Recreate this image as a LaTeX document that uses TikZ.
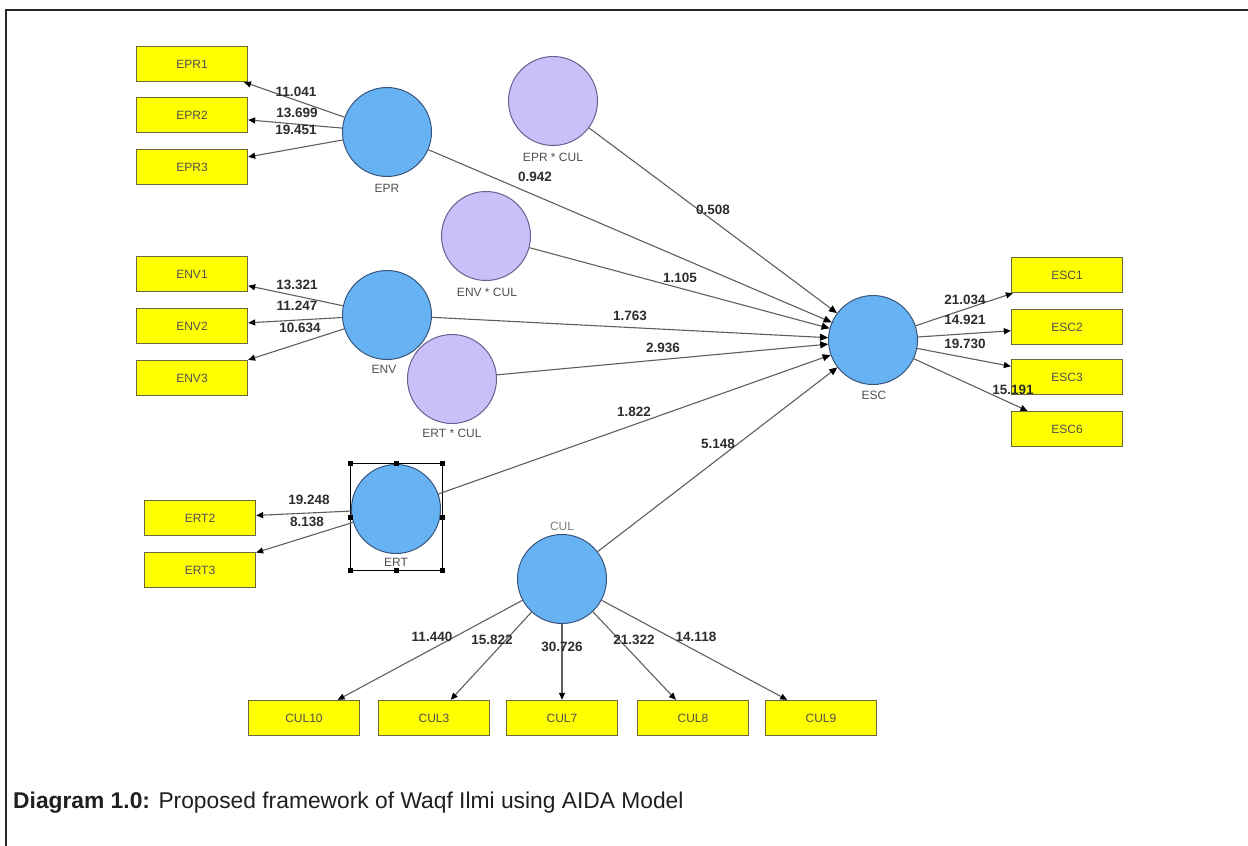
\documentclass[tikz,border=0pt]{standalone}
\usepackage{fontspec}
\setmainfont{Liberation Sans}
\usetikzlibrary{arrows.meta}
\definecolor{boxyellow}{RGB}{255,255,0}
\definecolor{boxedge}{RGB}{110,105,60}
\definecolor{latblue}{RGB}{102,178,242}
\definecolor{latedge}{RGB}{55,85,125}
\definecolor{intfill}{RGB}{200,192,248}
\definecolor{intedge}{RGB}{105,95,145}
\definecolor{pathgray}{RGB}{95,95,95}
\definecolor{lbltext}{RGB}{45,45,45}
\definecolor{nametext}{RGB}{80,80,80}
\definecolor{framegray}{RGB}{40,40,40}
\begin{document}
\begin{tikzpicture}[x=1pt,y=-1pt,
  ind/.style={draw=boxedge, line width=1.3pt, fill=boxyellow, minimum width=111pt, minimum height=35pt, inner sep=0pt, font=\fontsize{12}{14}\selectfont, text=nametext},
  lat/.style={circle, draw=latedge, line width=1pt, fill=latblue, minimum size=89pt, inner sep=0pt},
  intr/.style={circle, draw=intedge, line width=1pt, fill=intfill, minimum size=89pt, inner sep=0pt},
  cname/.style={font=\fontsize{12}{14}\selectfont, text=nametext, inner sep=0pt},
  pathline/.style={draw=pathgray, line width=1.1pt, -{Triangle[length=8pt,width=7pt,color=black]}},
  outline/.style={draw=pathgray, line width=1.1pt, -{Triangle[length=7pt,width=6pt,color=black]}},
  val/.style={font=\bfseries\fontsize{13.5}{15}\selectfont, text=lbltext, inner sep=0pt},
  handle/.style={fill=black, minimum size=5pt, inner sep=0pt}
]
\useasboundingbox (0,0) rectangle (1248,846);
\fill[white] (0,0) rectangle (1248,846);
% frame
\draw[framegray, line width=1.5pt] (6,846) -- (6,10) -- (1248,10);

% indicators
\node[ind] (EPR1) at (192,64) {EPR1};
\node[ind] (EPR2) at (192,115) {EPR2};
\node[ind] (EPR3) at (192,167) {EPR3};
\node[ind] (ENV1) at (192,274) {ENV1};
\node[ind] (ENV2) at (192,326) {ENV2};
\node[ind] (ENV3) at (192,378) {ENV3};
\node[ind] (ERT2) at (200,518) {ERT2};
\node[ind] (ERT3) at (200,570) {ERT3};
\node[ind] (ESC1) at (1067,275) {ESC1};
\node[ind] (ESC2) at (1067,327) {ESC2};
\node[ind] (ESC3) at (1067,377) {ESC3};
\node[ind] (ESC6) at (1067,429) {ESC6};
\node[ind] (CUL10) at (304,718) {CUL10};
\node[ind] (CUL3) at (434,718) {CUL3};
\node[ind] (CUL7) at (562,718) {CUL7};
\node[ind] (CUL8) at (693,718) {CUL8};
\node[ind] (CUL9) at (821,718) {CUL9};

% latent variables
\node[lat] (EPR) at (387,132) {};
\node[lat] (ENV) at (387,315) {};
\node[intr] (ERTCUL) at (452,379) {};
\node[intr] (ENVCUL) at (486,236) {};
\node[intr] (EPRCUL) at (553,101) {};
\node[lat] (ESC) at (873,340) {};
\node[lat] (ERT) at (396,509) {};
\node[lat] (CUL) at (562,579) {};

% names
\node[cname] (nEPR) at (387,188) {EPR};
\node[cname] (nENV) at (384,369) {ENV};
\node[cname] (nERT) at (396,562) {ERT};
\node[cname] (nESC) at (874,395) {ESC};
\node[cname, text=gray] (nCUL) at (562,526) {CUL};
\node[cname] (nEPRCUL) at (553,157) {EPR * CUL};
\node[cname] (nENVCUL) at (487,292) {ENV * CUL};
\node[cname] (nERTCUL) at (452,433) {ERT * CUL};

% selection box around ERT
\draw[black, line width=0.8pt] (350,463) rectangle (442,570);
\foreach \hx/\hy in {350/463,396/463,442/463,350/517,442/517,350/570,396/570,442/570}
  \node[handle] at (\hx,\hy) {};

% outer loadings
\draw[outline] (EPR) -- (EPR1);
\draw[outline] (EPR) -- (EPR2);
\draw[outline] (EPR) -- (EPR3);
\draw[outline] (ENV) -- (ENV1);
\draw[outline] (ENV) -- (ENV2);
\draw[outline] (ENV) -- (ENV3);
\draw[outline] (ERT) -- (ERT2);
\draw[outline] (ERT) -- (ERT3);
\draw[outline] (ESC) -- (ESC1);
\draw[outline] (ESC) -- (ESC2);
\draw[outline] (ESC) -- (ESC3);
\draw[outline] (ESC) -- (ESC6);
\draw[outline] (CUL) -- (CUL10);
\draw[outline] (CUL) -- (CUL3);
\draw[outline] (CUL) -- (CUL7);
\draw[outline] (CUL) -- (CUL8);
\draw[outline] (CUL) -- (CUL9);

% structural paths
\draw[pathline] (EPR) -- (ESC);
\draw[pathline] (EPRCUL) -- (ESC);
\draw[pathline] (ENVCUL) -- (ESC);
\draw[pathline] (ENV) -- (ESC);
\draw[pathline] (ERTCUL) -- (ESC);
\draw[pathline] (ERT) -- (ESC);
\draw[pathline] (CUL) -- (ESC);

% values
\node[val] at (296,92) {11.041};
\node[val] at (297,113) {13.699};
\node[val] at (296,130) {19.451};
\node[val] at (297,285) {13.321};
\node[val] at (297,306) {11.247};
\node[val] at (300,328) {10.634};
\node[val] at (309,500) {19.248};
\node[val] at (307,522) {8.138};
\node[val] at (965,300) {21.034};
\node[val] at (965,320) {14.921};
\node[val] at (965,344) {19.730};
\node[val] at (1013,390) {15.191};
\node[val] at (432,637) {11.440};
\node[val] at (492,640) {15.822};
\node[val] at (562,647) {30.726};
\node[val] at (634,640) {21.322};
\node[val] at (696,637) {14.118};
\node[val] at (535,177) {0.942};
\node[val] at (713,210) {0.508};
\node[val] at (680,278) {1.105};
\node[val] at (630,316) {1.763};
\node[val] at (663,348) {2.936};
\node[val] at (634,412) {1.822};
\node[val] at (718,444) {5.148};

% caption
\node[anchor=base west, inner sep=0pt, font=\fontsize{22.8}{26}\selectfont, text=black!88] (cap) at (13,808) {\textbf{Diagram 1.0:} Proposed framework of Waqf Ilmi using AIDA Model};
\end{tikzpicture}
\end{document}
